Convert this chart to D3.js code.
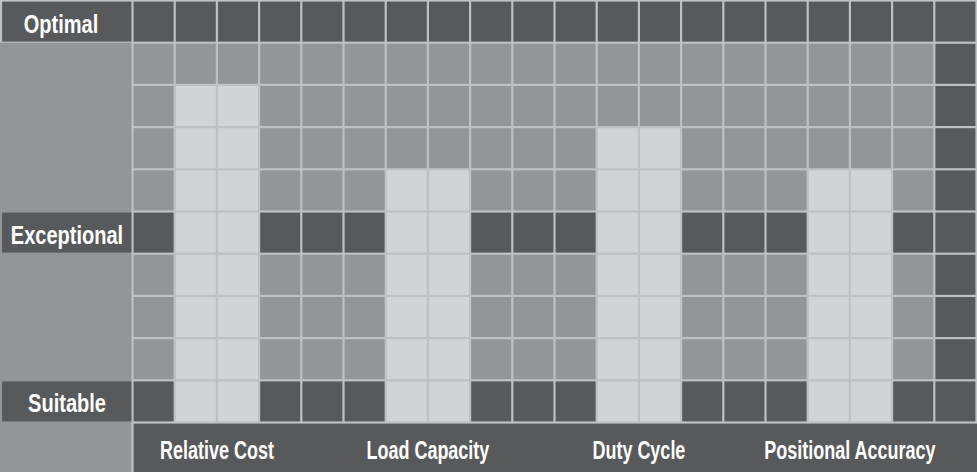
<!DOCTYPE html>
<html><head><meta charset="utf-8">
<script src="https://cdn.jsdelivr.net/npm/d3@7"></script>
<style>
html,body{margin:0;padding:0;background:#bfc0c2;}
svg{display:block;}
text{font-family:"Liberation Sans",Arial,sans-serif;font-weight:bold;fill:#fff;}
</style></head>
<body>
<script>
// ---- data ----
const categories = ["Relative Cost", "Load Capacity", "Duty Cycle", "Positional Accuracy"];
const values = [8, 6, 7, 6];            // number of filled levels (Suitable = 1 ... Optimal = 10)
const levels = [10, 9, 8, 7, 6, 5, 4, 3, 2, 1];
const tickLevels = [10, 5, 1];
const tickLabels = ["Optimal", "Exceptional", "Suitable"];
const columnsPerCategory = 5;
const barColumns = [1, 2];               // columns used by each bar inside its group

// ---- layout ----
const W = 977, H = 472;
const left = 132.5, pitch = 42.2, gap = 2.2;
const nCols = categories.length * columnsPerCategory;
const C = {dark: "#58595b", mid: "#939598", light: "#d1d3d4", grid: "#bfc0c2"};

const svg = d3.select("body").append("svg").attr("width", W).attr("height", H);

const x = d3.scaleBand().domain(d3.range(nCols)).range([left, left + nCols * pitch]);
const y = d3.scaleBand().domain(levels).range([0.5, 0.5 + levels.length * pitch]);
const xCat = d3.scaleBand().domain(categories).range([left, left + nCols * pitch]);

svg.append("rect").attr("width", W).attr("height", H).attr("fill", C.grid);
// left panel
svg.append("rect").attr("x", 0).attr("y", y(levels[0]) + y.bandwidth()).attr("width", left - 1.1)
  .attr("height", H).attr("fill", C.mid);
// bottom row
const yBottom = y(levels[levels.length - 1]) + y.bandwidth() + gap / 2;
svg.append("rect").attr("x", left + gap / 2).attr("y", yBottom).attr("width", W).attr("height", H - yBottom).attr("fill", C.dark);

// cells
const cells = [];
levels.forEach(l => d3.range(nCols).forEach(c => cells.push({l, c})));
function isBar(d) {
  const g = Math.floor(d.c / columnsPerCategory), k = d.c % columnsPerCategory;
  return barColumns.includes(k) && d.l <= values[g];
}
svg.append("g").selectAll("rect").data(cells).join("rect")
  .attr("x", d => x(d.c) + gap / 2)
  .attr("y", d => y(d.l) + gap / 2)
  .attr("width", x.bandwidth() - gap)
  .attr("height", y.bandwidth() - gap)
  .attr("fill", d => isBar(d) ? C.light
        : (tickLevels.includes(d.l) || d.c === nCols - 1) ? C.dark : C.mid);

// level labels
const lab = svg.append("g").selectAll("g").data(tickLevels).join("g");
lab.append("rect")
  .attr("x", 2.1).attr("y", d => y(d) + gap / 2)
  .attr("width", left - 2.1 - gap / 2).attr("height", y.bandwidth() - gap)
  .attr("fill", C.dark);
lab.append("text")
  .attr("transform", (d, i) => `translate(${i === 0 ? 61 : 67},${y(d) + 32}) scale(0.77,1)`)
  .attr("text-anchor", "middle").attr("font-size", 26)
  .text((d, i) => tickLabels[i]);

// category labels
svg.append("g").selectAll("text").data(categories).join("text")
  .attr("transform", d => `translate(${xCat(d) + x(barColumns[1]) - left},459) scale(0.72,1)`)
  .attr("text-anchor", "middle").attr("font-size", 25)
  .text(d => d);
</script>
</body></html>
